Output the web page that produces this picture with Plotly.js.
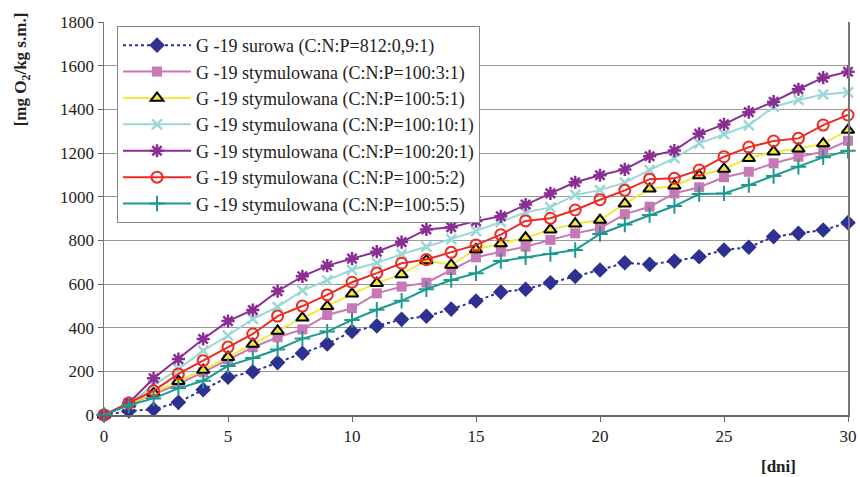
<!DOCTYPE html>
<html>
<head>
<meta charset="utf-8">
<script src="https://cdn.plot.ly/plotly-3.0.1.min.js"></script>
<style>
html,body{margin:0;padding:0;background:#fff;}
#chart{width:860px;height:477px;}
</style>
</head>
<body>
<div id="chart"></div>
<script>
const days = [0,1,2,3,4,5,6,7,8,9,10,11,12,13,14,15,16,17,18,19,20,21,22,23,24,25,26,27,28,29,30];

const surowa   = [0,18,26,58,116,173,198,240,283,325,383,408,438,452,485,522,563,576,606,635,664,697,690,705,725,756,768,817,832,847,881];
const stym3_1  = [0,50,95,142,196,254,310,356,392,458,489,557,588,606,664,722,748,771,802,832,855,920,954,1015,1043,1089,1114,1153,1183,1206,1256];
const stym5_1  = [0,50,101,155,206,265,325,385,445,498,555,604,644,708,687,758,785,812,849,876,893,968,1036,1050,1097,1127,1176,1206,1219,1243,1305];
const stym10_1 = [0,50,137,210,295,364,440,495,570,617,665,697,737,771,805,842,885,928,951,1008,1030,1064,1122,1176,1244,1287,1327,1412,1443,1468,1478];
const stym20_1 = [0,55,168,256,348,430,481,567,635,684,716,748,792,850,860,888,910,964,1015,1066,1098,1125,1185,1211,1288,1331,1387,1435,1492,1545,1572];
const stym5_2  = [0,55,111,188,249,311,371,453,499,550,608,650,695,712,745,779,826,889,901,939,986,1029,1080,1084,1122,1183,1227,1255,1267,1328,1374];
const stym5_5  = [0,45,76,122,157,225,261,300,350,382,435,482,523,576,618,649,705,722,737,756,829,872,916,957,1012,1015,1053,1095,1137,1180,1210];

const names = [
  "G -19 surowa (C:N:P=812:0,9:1)",
  "G -19 stymulowana (C:N:P=100:3:1)",
  "G -19 stymulowana (C:N:P=100:5:1)",
  "G -19 stymulowana (C:N:P=100:10:1)",
  "G -19 stymulowana (C:N:P=100:20:1)",
  "G -19 stymulowana (C:N:P=100:5:2)",
  "G -19 stymulowana (C:N:P=100:5:5)"
];
const yTitle = "[mg O<sub>2</sub>/kg s.m.]";
const xTitle = "[dni]";

const serif = "Liberation Serif";

const traces = [
  {y: surowa, name: names[0], line:{color:'#2E3192', width:2, dash:'dot'},
   marker:{symbol:'diamond', size:12, color:'#2E3192'}},
  {y: stym3_1, name: names[1], line:{color:'#C878B4', width:2},
   marker:{symbol:'square', size:10, color:'#C878B4'}},
  {y: stym5_1, name: names[2], line:{color:'#F2E93A', width:2},
   marker:{symbol:'triangle-up', size:11, color:'#F2E93A', line:{color:'#000', width:2}}},
  {y: stym10_1, name: names[3], line:{color:'#9AD8D6', width:2},
   marker:{symbol:'x-thin-open', size:10, color:'#9AD8D6', line:{color:'#9AD8D6', width:2.5}}},
  {y: stym20_1, name: names[4], line:{color:'#8A2E94', width:2},
   marker:{symbol:'asterisk-open', size:11, color:'#8A2E94', line:{color:'#8A2E94', width:2.5}}},
  {y: stym5_2, name: names[5], line:{color:'#EE2A24', width:2},
   marker:{symbol:'circle-open', size:11, color:'#EE2A24', line:{color:'#EE2A24', width:2}}},
  {y: stym5_5, name: names[6], line:{color:'#1C9A92', width:2},
   marker:{symbol:'cross-thin-open', size:11, color:'#1C9A92', line:{color:'#1C9A92', width:2}}}
].map(t => Object.assign({x: days, type:'scatter', mode:'lines+markers', cliponaxis:false}, t));

const layout = {
  width: 860, height: 477,
  margin: {l:104, r:12, t:22, b:62},
  paper_bgcolor:'#fff', plot_bgcolor:'#fff',
  font: {family: serif, size: 17, color:'#222'},
  showlegend: true,
  legend: {
    x: 0.0175, y: 0.99, xanchor:'left', yanchor:'top',
    bgcolor:'#fff', bordercolor:'#888', borderwidth:1,
    font:{family: serif, size:18, color:'#222'},
    itemwidth: 68, tracegroupgap: 0
  },
  xaxis: {
    range:[0,30], dtick:5, tick0:0,
    showgrid:false, zeroline:false,
    showline:true, linecolor:'#666', linewidth:1.5,
    ticks:'outside', ticklen:5, tickcolor:'#666',
    tickfont:{family: serif, size:17, color:'#222'}
  },
  yaxis: {
    range:[0,1800], dtick:200, tick0:0,
    showgrid:true, gridcolor:'#9a9a9a', gridwidth:1,
    zeroline:false,
    showline:true, mirror:true, linecolor:'#777', linewidth:1.5,
    ticks:'outside', ticklen:5, tickcolor:'#666',
    tickfont:{family: serif, size:17, color:'#222'}
  },
  annotations: [
    {text: yTitle, xref:'paper', yref:'paper', x:-0.11, y:0.88, xanchor:'center', yanchor:'middle',
     textangle:-90, showarrow:false, font:{family: serif, size:17, color:'#222', weight:'bold'}},
    {text: xTitle, xref:'paper', yref:'paper', x:0.906, y:-0.13, xanchor:'center', yanchor:'middle',
     showarrow:false, font:{family: serif, size:17, color:'#222', weight:'bold'}}
  ]
};

Plotly.newPlot('chart', traces, layout, {displayModeBar:false, staticPlot:true});
</script>
</body>
</html>
